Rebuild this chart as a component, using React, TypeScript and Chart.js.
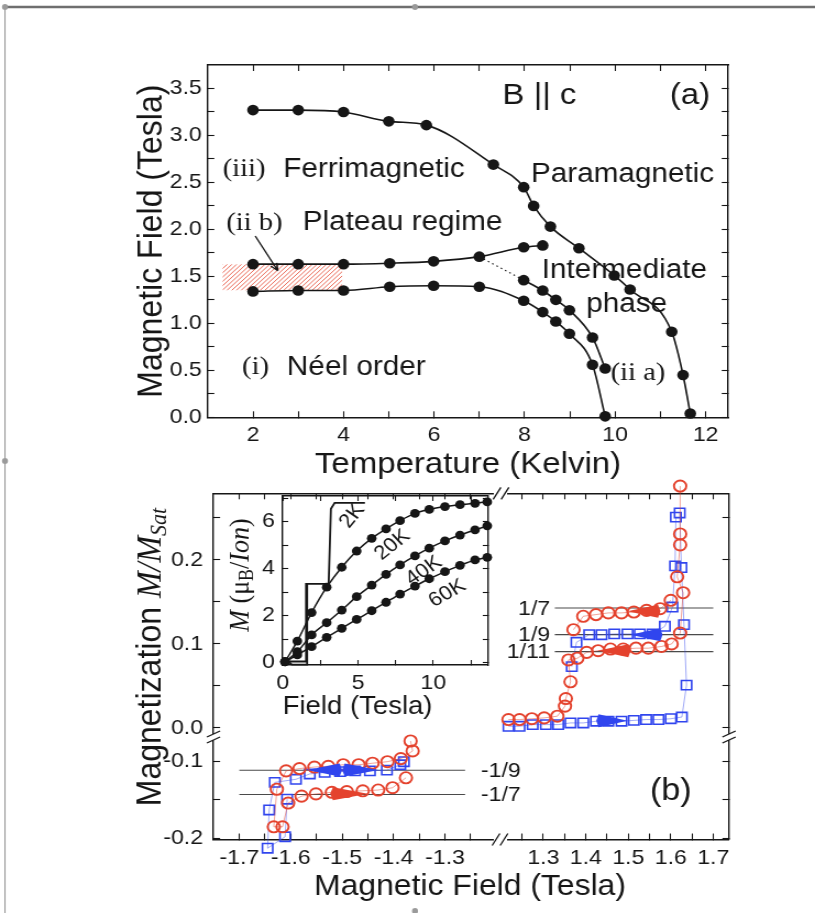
import React, { useEffect, useRef } from 'react';
import { Chart, registerables } from 'chart.js';

Chart.register(...registerables);

// ---- page geometry: the reference figure is stretched horizontally; the canvas bitmap is stretched the same way by CSS
const PAGE_W = 815;
const PAGE_H = 913;
const STRETCH = 1.1;
const CANVAS_W = Math.round(PAGE_W / STRETCH);
const SX = PAGE_W / CANVAS_W;
const px = (p: number) => p / SX;

const SANS = '"Liberation Sans", Arial, Helvetica, sans-serif';
const SERIF = '"Liberation Serif", "Times New Roman", Times, serif';
const INK = '#161616';
const RED = '#e4422d';
const BLUE = '#3045ee';
const RED_LINE = 'rgba(228,66,45,0.55)';
const BLUE_LINE = 'rgba(48,69,238,0.5)';

// ================= Panel (a): phase diagram, B || c =================
const ferriT = [2, 3, 4, 5, 5.83, 7.31, 7.98, 8.2, 8.57, 9.2, 9.98, 10.33, 11.25, 11.5, 11.66];
const ferriB = [3.27, 3.27, 3.25, 3.15, 3.11, 2.69, 2.45, 2.25, 2.03, 1.8, 1.51, 1.36, 0.91, 0.45, 0.04];
const plateauT = [2, 3, 4, 5.02, 5.99, 7, 7.98, 8.4];
const plateauB = [1.63, 1.63, 1.63, 1.64, 1.66, 1.71, 1.81, 1.83];
const neelT = [2, 3, 4, 5.02, 5.99, 7, 7.98, 8.4, 8.69, 8.99, 9.5, 9.78];
const neelB = [1.34, 1.35, 1.35, 1.39, 1.4, 1.39, 1.24, 1.12, 1.02, 0.89, 0.56, 0.01];
const interT = [7.98, 8.4, 8.69, 8.99, 9.5, 9.78];
const interB = [1.46, 1.35, 1.25, 1.14, 0.85, 0.52];
const dashT = [7, 7.98];
const dashB = [1.71, 1.46];
const hatchT = [1.33, 3.97];
const hatchB = [1.35, 1.63];
const arrowT = [2.05, 2.55];
const arrowB = [1.93, 1.56];

// ================= Panel (b): magnetization loops =================
// positive field (upper-right block)
const redUpH = [1.218, 1.244, 1.273, 1.302, 1.333, 1.351, 1.353, 1.364, 1.359, 1.38, 1.402, 1.429, 1.458, 1.488, 1.518, 1.547, 1.578, 1.602, 1.622, 1.629, 1.615, 1.622, 1.622, 1.622];
const redUpM = [0.01, 0.01, 0.011, 0.012, 0.014, 0.026, 0.035, 0.055, 0.081, 0.083, 0.09, 0.092, 0.094, 0.094, 0.095, 0.095, 0.097, 0.1, 0.113, 0.161, 0.18, 0.218, 0.231, 0.288];
const redDnH = [1.6, 1.575, 1.543, 1.513, 1.484, 1.453, 1.424, 1.394, 1.371];
const redDnM = [0.152, 0.142, 0.14, 0.138, 0.137, 0.137, 0.135, 0.133, 0.117];
const blueUpH = [1.218, 1.244, 1.275, 1.306, 1.335, 1.364, 1.394, 1.424, 1.453, 1.484, 1.513, 1.542, 1.571, 1.6, 1.626, 1.637, 1.631, 1.625, 1.621];
const blueUpM = [0.002, 0.002, 0.004, 0.004, 0.004, 0.006, 0.006, 0.008, 0.008, 0.008, 0.009, 0.01, 0.01, 0.011, 0.013, 0.051, 0.123, 0.191, 0.256];
const blueDnH = [1.612, 1.61, 1.604, 1.586, 1.557, 1.527, 1.498, 1.467, 1.437, 1.408, 1.378, 1.367];
const blueDnM = [0.251, 0.193, 0.144, 0.121, 0.112, 0.112, 0.112, 0.112, 0.111, 0.111, 0.102, 0.073];
// negative field (lower-left block)
const redNegH = [-1.367, -1.363, -1.386, -1.412, -1.441, -1.468, -1.498, -1.527, -1.554, -1.583, -1.609, -1.627, -1.633, -1.616, -1.605, -1.579, -1.551, -1.52, -1.491, -1.46, -1.43, -1.402, -1.376];
const redNegM = [-0.073, -0.086, -0.096, -0.1, -0.102, -0.104, -0.104, -0.106, -0.107, -0.109, -0.112, -0.136, -0.185, -0.185, -0.154, -0.145, -0.142, -0.14, -0.139, -0.138, -0.137, -0.134, -0.121];
const blueNegH = [-1.38, -1.387, -1.413, -1.446, -1.475, -1.504, -1.534, -1.563, -1.59, -1.631, -1.642, -1.645, -1.611, -1.607];
const blueNegM = [-0.1, -0.104, -0.111, -0.112, -0.112, -0.113, -0.114, -0.116, -0.123, -0.127, -0.163, -0.213, -0.198, -0.149];
// fractional plateau guide lines
const fracPos = [1 / 7, 1 / 9, 1 / 11];
const fracPosText = ['1/7', '1/9', '1/11'];
const fracPosH = [1.327, 1.7];
const fracNeg = [-1 / 9, -1 / 7];
const fracNegText = ['-1/9', '-1/7'];
const fracNegH = [-1.7, -1.261];
// sweep-direction wedges: tail field, tip field, level
const wedgePosTail = [1.43, 1.575, 1.5, 1.57];
const wedgePosTip = [1.498, 1.505, 1.428, 1.498];
const wedgePosM = [0.0085, 0.111, 0.092, 0.139];
const wedgePosColor = [BLUE, BLUE, RED, RED];
const wedgeNegTail = [-1.505, -1.495, -1.518];
const wedgeNegTip = [-1.568, -1.43, -1.45];
const wedgeNegM = [-0.111, -0.111, -0.142];
const wedgeNegColor = [BLUE, BLUE, RED];

// ================= Inset: M(H) at several temperatures =================
const insetH = [0.15, 0.97, 1.92, 2.92, 3.92, 4.91, 5.91, 6.86, 7.79, 8.78, 9.73, 10.77, 11.77, 12.77, 13.58];
const m20K = [0.04, 0.92, 2.13, 3.21, 4.06, 4.75, 5.29, 5.69, 6.04, 6.35, 6.52, 6.64, 6.72, 6.78, 6.84];
const m40K = [0.04, 0.47, 1.18, 1.7, 2.24, 2.81, 3.3, 3.76, 4.16, 4.54, 4.87, 5.18, 5.43, 5.65, 5.82];
const m60K = [0.04, 0.33, 0.68, 1.08, 1.46, 1.84, 2.21, 2.57, 2.92, 3.26, 3.57, 3.87, 4.14, 4.37, 4.48];
const k2UpH = [0, 0.3, 1.55, 1.55, 3.05, 3.2, 3.45, 5.46];
const k2UpM = [0, 0.05, 0.05, 3.35, 3.35, 6.55, 6.8, 6.8];
const k2DnH = [1.62, 1.62, 0.6, 0.45];
const k2DnM = [3.35, -0.08, -0.08, 0.02];
const insetLabels = ['2K', '20K', '40K', '60K'];
const insetLabelH = [4.62, 7.28, 9.38, 10.93];
const insetLabelM = [6.24, 5.01, 3.91, 2.95];
const insetLabelRot = [-53, -41, -36, -32];

// ================= ticks =================
const aXTicks = [2, 3, 4, 5, 6, 7, 8, 9, 10, 11, 12];
const aXLabels = [2, 4, 6, 8, 10, 12];
const aYTicks = [0, 0.25, 0.5, 0.75, 1, 1.25, 1.5, 1.75, 2, 2.25, 2.5, 2.75, 3, 3.25, 3.5];
const aYLabels = [0, 0.5, 1, 1.5, 2, 2.5, 3, 3.5];
const bXLeftTicks = [-1.7, -1.65, -1.6, -1.55, -1.5, -1.45, -1.4, -1.35, -1.3, -1.25];
const bXLeftLabels = [-1.7, -1.6, -1.5, -1.4, -1.3];
const bXRightTicks = [1.25, 1.3, 1.35, 1.4, 1.45, 1.5, 1.55, 1.6, 1.65, 1.7];
const bXRightLabels = [1.3, 1.4, 1.5, 1.6, 1.7];
const bYUpTicks = [0, 0.05, 0.1, 0.15, 0.2, 0.25];
const bYUpLabels = [0, 0.1, 0.2];
const bYLoTicks = [-0.2, -0.15, -0.1];
const bYLoLabels = [-0.2, -0.1];
const iXTicks = [0, 2.5, 5, 7.5, 10, 12.5];
const iXLabels = [0, 5, 10];
const iYTicks = [0, 1, 2, 3, 4, 5, 6, 7];
const iYLabels = [0, 2, 4, 6];

// ================= axis boxes (canvas px): [left, top, right, bottom]
const BOXES: Record<string, number[]> = {
  ax: [px(207.7), 417.3, px(728.3), 483],
  axT: [px(207.7), 40, px(728.3), 65],
  ay: [px(152) - 19.2, 65, px(207.7), 417.3],
  ayR: [px(728.3), 65, px(728.3) + 20, 417.3],
  bxL: [px(213.5), 839.5, px(493), 880],
  bxLt: [px(213.5), 470, px(493), 493.3],
  bxR: [px(508), 839.5, px(729), 880],
  bxRt: [px(508), 470, px(729), 493.3],
  byU: [px(100), 493.3, px(213.5), 733],
  byUr: [px(729), 493.3, px(729) + 20, 733],
  byL: [px(100), 741, px(213.5), 839.5],
  byLr: [px(729), 741, px(729) + 20, 839.5],
  ix: [px(282.7), 665, px(488.3), 721.7],
  ixT: [px(282.7), 470, px(488.3), 496],
  iy: [px(200), 496, px(282.7), 665],
  iyR: [px(488.3), 496, px(488.3) + 20, 665],
};

const pts = (xs: number[], ys: number[]) => xs.map((x, i) => ({ x, y: ys[i] }));
const f1 = (v: number) => v.toFixed(1);
const f0 = (v: number) => String(Math.round(v));

type Pos = 'left' | 'right' | 'top' | 'bottom';
function axis(pos: Pos, min: number, max: number, ticks: number[], labels: number[] | null, fmt: (v: number) => string, pad: number, tl: number, title?: any) {
  const horiz = pos === 'top' || pos === 'bottom';
  return {
    type: 'linear',
    position: pos,
    min,
    max,
    bounds: 'data',
    afterBuildTicks: (s: any) => {
      s.ticks = ticks.map((v) => ({ value: v }));
    },
    afterFit: (s: any) => {
      if (horiz) s.height = 0;
      else s.width = 0;
    },
    grid: { display: true, drawOnChartArea: false, drawTicks: true, tickLength: -tl, tickColor: INK, tickWidth: 1.1, lineWidth: 1 },
    border: { display: true, color: INK, width: 1.4 },
    ticks: {
      display: !!labels,
      autoSkip: false,
      maxRotation: 0,
      minRotation: 0,
      padding: pad,
      color: INK,
      font: { family: SANS, size: 21 },
      callback: (v: any) => (labels && labels.some((l) => Math.abs(l - Number(v)) < 1e-9) ? fmt(Number(v)) : ''),
    },
    title: title || { display: false },
  };
}

const scales: any = {
  ax: axis('bottom', 1, 12.5, aXTicks, aXLabels, f0, 11.1, 6, { display: true, text: 'Temperature (Kelvin)', color: INK, font: { family: SANS, size: 30 }, padding: 0 }),
  axT: axis('top', 1, 12.5, aXTicks, null, f0, 0, 6),
  ay: axis('left', 0, 3.75, aYTicks, aYLabels, f1, 11.4, 6, { display: true, text: 'Magnetic Field (Tesla)', color: INK, font: { family: SANS, size: 32 }, padding: 0 }),
  ayR: axis('right', 0, 3.75, aYTicks, null, f1, 0, 6),
  bxL: axis('bottom', -1.7502, -1.2067, bXLeftTicks, bXLeftLabels, f1, 12.2, 6),
  bxLt: axis('top', -1.7502, -1.2067, bXLeftTicks, null, f1, 0, 6),
  bxR: axis('bottom', 1.2169, 1.737, bXRightTicks, bXRightLabels, f1, 12.2, 6),
  bxRt: axis('top', 1.2169, 1.737, bXRightTicks, null, f1, 0, 6),
  byU: axis('left', -0.006, 0.2794, bYUpTicks, bYUpLabels, f1, 15.5, 6),
  byUr: axis('right', -0.006, 0.2794, bYUpTicks, null, f1, 0, 6),
  byL: axis('left', -0.2016, -0.073, bYLoTicks, bYLoLabels, f1, 15.5, 6),
  byLr: axis('right', -0.2016, -0.073, bYLoTicks, null, f1, 0, 6),
  ix: axis('bottom', 0, 13.65, iXTicks, iXLabels, f0, 10.4, 5, { display: true, text: 'Field (Tesla)', align: 'start', color: INK, font: { family: SANS, size: 25 }, padding: 0 }),
  ixT: axis('top', 0, 13.65, iXTicks, null, f0, 0, 5),
  iy: axis('left', -0.098, 7.09, iYTicks, iYLabels, f0, 12, 5),
  iyR: axis('right', -0.098, 7.09, iYTicks, null, f0, 0, 5),
};

const curveA = (xs: number[], ys: number[]) => ({
  data: pts(xs, ys), xAxisID: 'ax', yAxisID: 'ay', showLine: true, borderColor: INK, borderWidth: 1.6,
  pointRadius: 5.3, pointBackgroundColor: INK, pointBorderColor: INK, pointBorderWidth: 0,
  cubicInterpolationMode: 'monotone', clip: false,
});
const curveI = (xs: number[], ys: number[]) => ({
  data: pts(xs, ys), xAxisID: 'ix', yAxisID: 'iy', showLine: true, borderColor: INK, borderWidth: 1.5,
  pointRadius: 4.4, pointBackgroundColor: INK, pointBorderColor: INK, pointBorderWidth: 0,
  cubicInterpolationMode: 'monotone', clip: false,
});
const stepI = (xs: number[], ys: number[]) => ({
  data: pts(xs, ys), xAxisID: 'ix', yAxisID: 'iy', showLine: true, borderColor: INK, borderWidth: 1.8,
  pointRadius: 0, tension: 0, clip: false,
});
const redSet = (xs: number[], ys: number[], xa: string, ya: string) => ({
  data: pts(xs, ys), xAxisID: xa, yAxisID: ya, showLine: true, borderColor: RED_LINE, borderWidth: 0.9,
  pointStyle: 'circle', pointRadius: 5.6, pointBorderWidth: 1.9, pointBorderColor: RED,
  pointBackgroundColor: 'rgba(255,255,255,0)', tension: 0, clip: false,
});
const blueSet = (xs: number[], ys: number[], xa: string, ya: string) => ({
  data: pts(xs, ys), xAxisID: xa, yAxisID: ya, showLine: true, borderColor: BLUE_LINE, borderWidth: 0.9,
  pointStyle: 'rect', pointRadius: 6.6, pointBorderWidth: 1.6, pointBorderColor: BLUE,
  pointBackgroundColor: 'rgba(255,255,255,0)', tension: 0, clip: false,
});
const guide = (xs: number[], y: number, xa: string, ya: string) => ({
  data: pts(xs, xs.map(() => y)), xAxisID: xa, yAxisID: ya, showLine: true, borderColor: '#4a4a4a',
  borderWidth: 1.1, pointRadius: 0, tension: 0, clip: false,
});

const datasets: any[] = [
  redSet(redUpH, redUpM, 'bxR', 'byU'),
  redSet(redDnH, redDnM, 'bxR', 'byU'),
  redSet(redNegH, redNegM, 'bxL', 'byL'),
  blueSet(blueUpH, blueUpM, 'bxR', 'byU'),
  blueSet(blueDnH, blueDnM, 'bxR', 'byU'),
  blueSet(blueNegH, blueNegM, 'bxL', 'byL'),
  curveI(insetH, m20K),
  curveI(insetH, m40K),
  curveI(insetH, m60K),
  stepI(k2UpH, k2UpM),
  stepI(k2DnH, k2DnM),
  curveA(ferriT, ferriB),
  curveA(plateauT, plateauB),
  curveA(neelT, neelB),
  curveA(interT, interB),
  { data: pts(dashT, dashB), xAxisID: 'ax', yAxisID: 'ay', showLine: true, borderColor: INK, borderWidth: 1.1, borderDash: [1.5, 3], pointRadius: 0, tension: 0, clip: false },
  ...fracPos.map((f) => guide(fracPosH, f, 'bxR', 'byU')),
  ...fracNeg.map((f) => guide(fracNegH, f, 'bxL', 'byL')),
];

// annotation texts (data coordinates of panel (a))
const aTextStr = ['B || c', '(a)', '(iii)', 'Ferrimagnetic', 'Paramagnetic', '(ii b)', 'Plateau regime', 'Intermediate', 'phase', '(i)', 'Néel order', '(ii a)'];
const aTextT = [7.51, 11.21, 1.33, 2.67, 8.14, 1.41, 3.1, 8.38, 9.36, 1.76, 2.75, 9.9];
const aTextB = [3.42, 3.42, 2.64, 2.64, 2.58, 2.07, 2.07, 1.56, 1.2, 0.53, 0.53, 0.47];
const aTextSerif = [false, false, true, false, false, true, false, false, false, true, false, true];

const placer = {
  id: 'placer',
  afterLayout(chart: any) {
    for (const id of Object.keys(BOXES)) {
      const b = BOXES[id];
      const sc = chart.scales[id];
      if (!sc) continue;
      sc.left = b[0];
      sc.top = b[1];
      sc.right = b[2];
      sc.bottom = b[3];
      sc.width = b[2] - b[0];
      sc.height = b[3] - b[1];
      sc.configure();
    }
  },
};

function text(ctx: CanvasRenderingContext2D, s: string, x: number, y: number, font: string, align: CanvasTextAlign = 'left', rot = 0) {
  ctx.save();
  ctx.translate(x, y);
  if (rot) ctx.rotate(rot);
  ctx.font = font;
  ctx.fillStyle = INK;
  ctx.textAlign = align;
  ctx.textBaseline = 'middle';
  ctx.fillText(s, 0, 0);
  ctx.restore();
}

function rich(ctx: CanvasRenderingContext2D, parts: { t: string; f: string; dy?: number }[], cx: number, cy: number, rot: number) {
  ctx.save();
  ctx.translate(cx, cy);
  ctx.rotate(rot);
  ctx.fillStyle = INK;
  ctx.textBaseline = 'middle';
  ctx.textAlign = 'left';
  let total = 0;
  const w = parts.map((p) => {
    ctx.font = p.f;
    const m = ctx.measureText(p.t).width;
    total += m;
    return m;
  });
  let x = -total / 2;
  parts.forEach((p, i) => {
    ctx.font = p.f;
    ctx.fillText(p.t, x, p.dy || 0);
    x += w[i];
  });
  ctx.restore();
}

function wedge(ctx: CanvasRenderingContext2D, xs: any, ys: any, tail: number, tip: number, m: number, color: string) {
  const x0 = xs.getPixelForValue(tail);
  const x1 = xs.getPixelForValue(tip);
  const y = ys.getPixelForValue(m);
  ctx.save();
  ctx.fillStyle = color;
  ctx.beginPath();
  ctx.moveTo(x1, y);
  ctx.lineTo(x0, y - 6.5);
  ctx.lineTo(x0 - (x1 - x0) * 0.08, y);
  ctx.lineTo(x0, y + 6.5);
  ctx.closePath();
  ctx.fill();
  ctx.restore();
}

function slashH(ctx: CanvasRenderingContext2D, x: number, y: number) {
  ctx.beginPath();
  ctx.moveTo(x - 3.5, y + 6);
  ctx.lineTo(x + 3.5, y - 6);
  ctx.stroke();
}
function slashV(ctx: CanvasRenderingContext2D, x: number, y: number) {
  ctx.beginPath();
  ctx.moveTo(x - 6, y + 3);
  ctx.lineTo(x + 6, y - 3);
  ctx.stroke();
}

const decor = {
  id: 'decor',
  beforeDatasetsDraw(chart: any) {
    const ctx: CanvasRenderingContext2D = chart.ctx;
    const { ax, ay } = chart.scales;
    // hatched plateau region (ii b)
    const l = ax.getPixelForValue(hatchT[0]);
    const r = ax.getPixelForValue(hatchT[1]);
    const t = ay.getPixelForValue(hatchB[1]);
    const b = ay.getPixelForValue(hatchB[0]);
    ctx.save();
    ctx.beginPath();
    ctx.rect(l, t, r - l, b - t);
    ctx.clip();
    ctx.strokeStyle = '#ea6a58';
    ctx.lineWidth = 1;
    ctx.beginPath();
    for (let k = l - (b - t); k < r + 2; k += 4.3) {
      ctx.moveTo(k, b);
      ctx.lineTo(k + (b - t), t);
    }
    ctx.stroke();
    ctx.restore();
  },
  afterDatasetsDraw(chart: any) {
    const ctx: CanvasRenderingContext2D = chart.ctx;
    const S = chart.scales;
    // panel (a) annotations
    aTextStr.forEach((s, i) => {
      const serif = aTextSerif[i];
      const big = i < 2;
      const font = serif ? `26px ${SERIF}` : `${big ? 30 : 27}px ${SANS}`;
      text(ctx, s, S.ax.getPixelForValue(aTextT[i]), S.ay.getPixelForValue(aTextB[i]), font);
    });
    // arrow pointing into the hatched region
    const ax0 = S.ax.getPixelForValue(arrowT[0]);
    const ay0 = S.ay.getPixelForValue(arrowB[0]);
    const ax1 = S.ax.getPixelForValue(arrowT[1]);
    const ay1 = S.ay.getPixelForValue(arrowB[1]);
    ctx.save();
    ctx.strokeStyle = INK;
    ctx.lineWidth = 1.4;
    ctx.beginPath();
    ctx.moveTo(ax0, ay0);
    ctx.lineTo(ax1, ay1);
    const ang = Math.atan2(ay1 - ay0, ax1 - ax0);
    ctx.moveTo(ax1, ay1);
    ctx.lineTo(ax1 - 8 * Math.cos(ang - 0.4), ay1 - 8 * Math.sin(ang - 0.4));
    ctx.moveTo(ax1, ay1);
    ctx.lineTo(ax1 - 8 * Math.cos(ang + 0.4), ay1 - 8 * Math.sin(ang + 0.4));
    ctx.stroke();
    ctx.restore();

    // panel (b): sweep wedges
    wedgePosTail.forEach((t, i) => wedge(ctx, S.bxR, S.byU, t, wedgePosTip[i], wedgePosM[i], wedgePosColor[i]));
    wedgeNegTail.forEach((t, i) => wedge(ctx, S.bxL, S.byL, t, wedgeNegTip[i], wedgeNegM[i], wedgeNegColor[i]));
    // fraction labels
    fracPos.forEach((f, i) => text(ctx, fracPosText[i], S.bxR.getPixelForValue(1.316), S.byU.getPixelForValue(f) + 1, `21px ${SANS}`, 'right'));
    fracNeg.forEach((f, i) => text(ctx, fracNegText[i], S.bxL.getPixelForValue(-1.23), S.byL.getPixelForValue(f) + 1, `21px ${SANS}`, 'left'));
    text(ctx, '(b)', S.bxR.getPixelForValue(1.6), S.byL.getPixelForValue(-0.139), `31px ${SANS}`, 'center');
    text(ctx, 'Magnetic Field (Tesla)', px(470), 887, `29px ${SANS}`, 'center');
    rich(ctx, [
      { t: 'Magnetization ', f: `32px ${SANS}` },
      { t: 'M/M', f: `italic 32px ${SERIF}` },
      { t: 'Sat', f: `italic 22px ${SERIF}`, dy: 8 },
    ], px(151), 657, -Math.PI / 2);

    // inset labels
    insetLabels.forEach((s, i) =>
      text(ctx, s, S.ix.getPixelForValue(insetLabelH[i]), S.iy.getPixelForValue(insetLabelM[i]), `20px ${SANS}`, 'center', (insetLabelRot[i] * Math.PI) / 180),
    );
    rich(ctx, [
      { t: 'M', f: `italic 26px ${SERIF}` },
      { t: ' (\u03bc', f: `26px ${SERIF}` },
      { t: 'B', f: `18px ${SERIF}`, dy: 6 },
      { t: '/', f: `26px ${SERIF}` },
      { t: 'Ion', f: `italic 26px ${SERIF}` },
      { t: ')', f: `26px ${SERIF}` },
    ], px(241), 575, -Math.PI / 2);
  },
  afterDraw(chart: any) {
    const ctx: CanvasRenderingContext2D = chart.ctx;
    // axis breaks of panel (b)
    ctx.save();
    ctx.strokeStyle = INK;
    ctx.lineWidth = 1.3;
    slashH(ctx, px(497), 493.3);
    slashH(ctx, px(505), 493.3);
    slashH(ctx, px(496), 839.5);
    slashH(ctx, px(504), 839.5);
    slashV(ctx, px(213.5), 734);
    slashV(ctx, px(213.5), 740);
    slashV(ctx, px(729), 734);
    slashV(ctx, px(729), 740);
    ctx.restore();
    // page frame of the source document
    ctx.save();
    ctx.strokeStyle = '#6f6f6f';
    ctx.lineWidth = 2.4;
    ctx.beginPath();
    ctx.moveTo(px(5), 7);
    ctx.lineTo(px(815), 7);
    ctx.stroke();
    ctx.strokeStyle = '#8d8d8d';
    ctx.lineWidth = 1;
    ctx.beginPath();
    ctx.moveTo(px(5), 7);
    ctx.lineTo(px(5), 913);
    ctx.stroke();
    ctx.fillStyle = '#9a9a9a';
    [[5, 7], [415, 7], [5, 461], [415, 911]].forEach(([x, y]) => {
      ctx.beginPath();
      ctx.ellipse(px(x), y, 3 / SX, 3, 0, 0, Math.PI * 2);
      ctx.fill();
    });
    ctx.restore();
  },
};

export default function App() {
  const ref = useRef<HTMLCanvasElement>(null);
  useEffect(() => {
    const canvas = ref.current;
    if (!canvas) return;
    const chart = new Chart(canvas, {
      type: 'scatter',
      data: { datasets },
      options: {
        responsive: false,
        animation: false,
        devicePixelRatio: 1,
        events: [],
        layout: { padding: 0 },
        plugins: { legend: { display: false }, tooltip: { enabled: false }, title: { display: false } },
        elements: { line: { capBezierPoints: false } },
        scales,
      },
      plugins: [placer, decor],
    } as any);
    return () => chart.destroy();
  }, []);
  return (
    <div style={{ position: 'absolute', left: 0, top: 0, width: PAGE_W, height: PAGE_H, background: '#fff' }}>
      <canvas ref={ref} width={CANVAS_W} height={PAGE_H} style={{ width: `${PAGE_W}px`, height: `${PAGE_H}px`, display: 'block' }} />
    </div>
  );
}
